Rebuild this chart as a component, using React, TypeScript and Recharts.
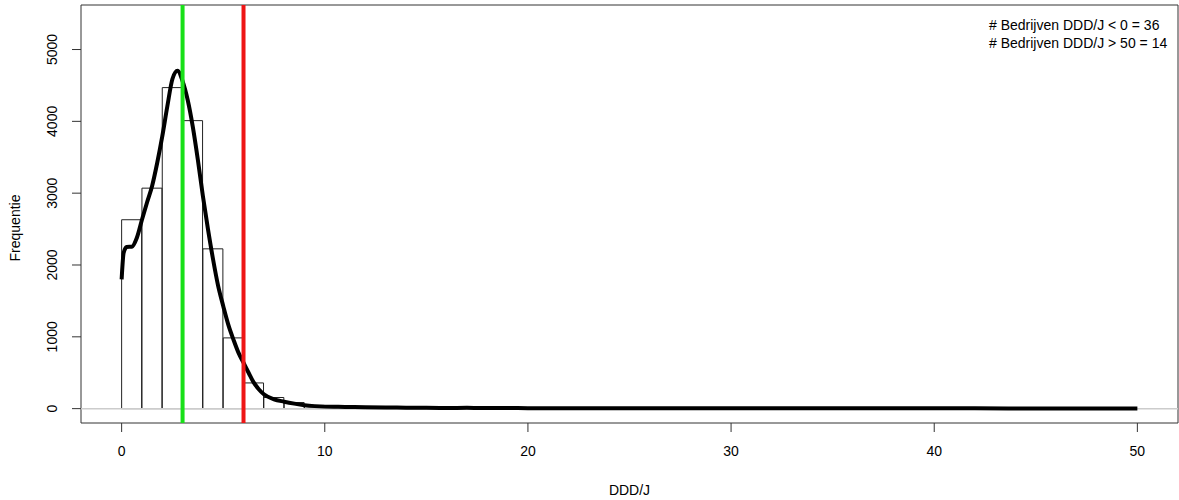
import React from 'react';
import {
  ComposedChart,
  Bar,
  Line,
  XAxis,
  YAxis,
  ReferenceLine,
  ReferenceArea,
  Label,
} from 'recharts';

// histogram bins (width 1), value = bin midpoint
const binMids = [
  0.5, 1.5, 2.5, 3.5, 4.5, 5.5, 6.5, 7.5, 8.5, 9.5,
  10.5, 11.5, 12.5, 13.5, 14.5, 15.5, 16.5, 17.5, 18.5, 19.5,
  20.5, 21.5, 22.5, 23.5, 24.5, 25.5, 26.5, 27.5, 28.5, 29.5,
  30.5, 31.5, 32.5, 33.5, 34.5, 35.5, 36.5, 37.5, 38.5, 39.5,
  40.5, 41.5, 42.5, 43.5, 44.5, 45.5, 46.5, 47.5, 48.5, 49.5,
];
const binCounts = [
  2630, 3070, 4470, 4010, 2225, 985, 358, 155, 85, 45,
  28, 22, 18, 15, 12, 10, 9, 10, 8, 7,
  6, 5, 6, 7, 5, 4, 4, 5, 4, 3,
  4, 3, 4, 5, 6, 4, 3, 3, 4, 3,
  5, 4, 3, 2, 3, 2, 2, 3, 2, 2,
];

// density curve, scaled to counts
const densX = [
  0, 0.1, 0.25, 0.5, 0.75, 1, 1.25, 1.5, 1.75, 2, 2.25, 2.5, 2.75, 3, 3.25, 3.5,
  3.75, 4, 4.25, 4.5, 4.75, 5, 5.25, 5.5, 5.75, 6, 6.25, 6.5, 6.75, 7, 7.5, 8,
  8.5, 9, 9.5, 10, 11, 12, 13, 14, 15, 16, 17, 18, 19, 20, 22, 24, 26, 28, 30,
  32, 34, 36, 38, 40, 42, 44, 46, 48, 50,
];
const densY = [
  1800, 2170, 2250, 2255, 2380, 2630, 2870, 3100, 3420, 3790, 4210, 4590, 4705, 4560, 4300, 3930,
  3470, 2960, 2500, 2080, 1710, 1430, 1170, 965, 780, 640, 500, 365, 270, 200, 130, 97,
  70, 48, 35, 28, 24, 20, 17, 14, 12, 10, 11, 9, 8, 7, 6, 6, 5, 5, 4,
  5, 6, 4, 4, 5, 4, 3, 3, 3, 2,
];

const xTicks = [0, 10, 20, 30, 40, 50];
const yTicks = [0, 1000, 2000, 3000, 4000, 5000];
const legendLines = ['# Bedrijven DDD/J < 0 = 36', '# Bedrijven DDD/J > 50 = 14'];
const meanValue = 3;
const cutoffValue = 6;

const FONT = '"Liberation Sans", Arial, sans-serif';

const bins = binMids.map((mid, i) => ({ mid, count: binCounts[i] }));
const density = densX.map((x, i) => ({ x, y: densY[i] }));

const YTick = (props: any) => {
  const { x, y, payload } = props;
  const px = x - 13;
  return (
    <text
      x={px}
      y={y}
      transform={`rotate(-90, ${px}, ${y})`}
      textAnchor="middle"
      fill="#000"
      fontSize={14}
      fontFamily={FONT}
    >
      {payload.value}
    </text>
  );
};

const YTitle = (props: any) => {
  const { viewBox } = props;
  const cx = 20;
  const cy = viewBox.y + viewBox.height / 2 + 14;
  return (
    <text
      x={cx}
      y={cy}
      transform={`rotate(-90, ${cx}, ${cy})`}
      textAnchor="middle"
      fill="#000"
      fontSize={14}
      fontFamily={FONT}
    >
      Frequentie
    </text>
  );
};

export default function App() {
  return (
    <div style={{ position: 'absolute', left: 0, top: 0, background: '#fff' }}>
      <ComposedChart
        width={1179}
        height={500}
        data={bins}
        margin={{ top: 5, right: 1, bottom: 0, left: 0 }}
        barCategoryGap={0}
        barGap={0}
      >
        <XAxis
          xAxisId="bins"
          dataKey="mid"
          type="number"
          domain={[-2, 52]}
          ticks={xTicks}
          interval={0}
          allowDataOverflow
          height={77}
          tickSize={9}
          tickMargin={14}
          axisLine={false}
          tickLine={{ stroke: '#333' }}
          tick={{ fill: '#000', fontSize: 14, fontFamily: FONT }}
        >
          <Label
            value="DDD/J"
            position="insideBottom"
            offset={5}
            fill="#000"
            fontSize={14}
            fontFamily={FONT}
          />
        </XAxis>
        <XAxis xAxisId="dens" dataKey="x" type="number" domain={[-2, 52]} allowDataOverflow hide />
        <YAxis
          type="number"
          domain={[-200, 5620]}
          ticks={yTicks}
          interval={0}
          allowDataOverflow
          width={81}
          tickSize={9}
          axisLine={false}
          tickLine={{ stroke: '#333' }}
          tick={<YTick />}
        >
          <Label content={<YTitle />} />
        </YAxis>

        <ReferenceLine xAxisId="bins" y={0} stroke="#cccccc" strokeWidth={1.5} />
        <Bar
          xAxisId="bins"
          dataKey="count"
          fill="none"
          stroke="#222"
          strokeWidth={1}
          isAnimationActive={false}
        />
        <Line
          xAxisId="dens"
          data={density}
          dataKey="y"
          type="monotone"
          stroke="#000"
          strokeWidth={4}
          dot={false}
          activeDot={false}
          isAnimationActive={false}
        />
        <ReferenceLine xAxisId="bins" x={meanValue} stroke="#18e018" strokeWidth={4} />
        <ReferenceLine xAxisId="bins" x={cutoffValue} stroke="#ee1515" strokeWidth={4} />
        <ReferenceArea
          xAxisId="bins"
          x1={-2}
          x2={52}
          y1={-200}
          y2={5620}
          fill="none"
          stroke="#333"
          strokeWidth={1}
          ifOverflow="visible"
        />
        <g>
          {legendLines.map((t, i) => (
            <text key={t} x={989} y={30 + i * 18} fill="#000" fontSize={14} fontFamily={FONT}>
              {t}
            </text>
          ))}
        </g>
      </ComposedChart>
    </div>
  );
}
